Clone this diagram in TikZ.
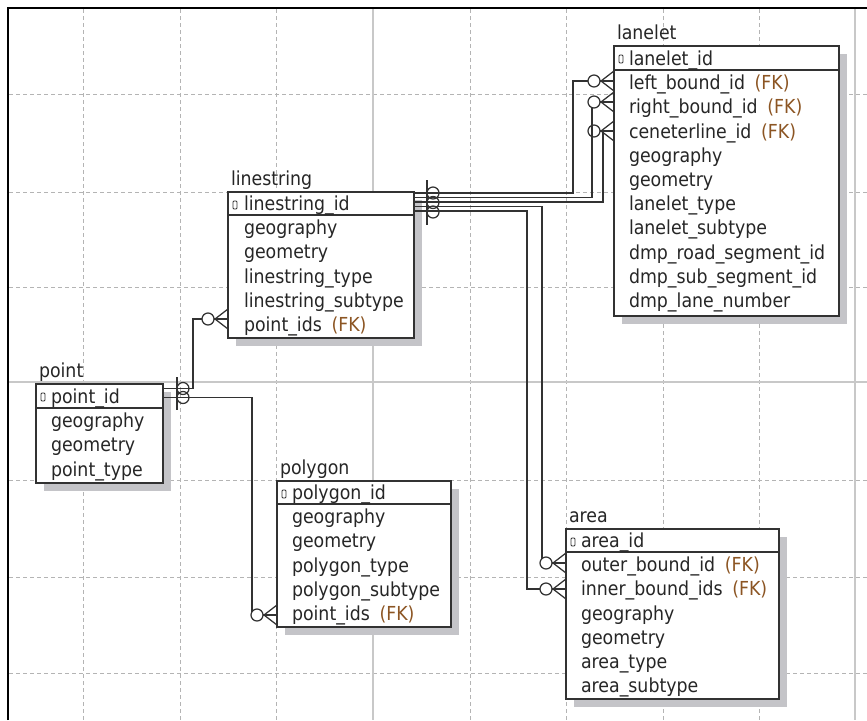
\documentclass[tikz,border=0pt]{standalone}
\usepackage{fontspec}
\setmainfont{DejaVu Sans}[FakeStretch=0.9]
\definecolor{gridc}{RGB}{180,180,180}
\definecolor{pagec}{RGB}{200,200,200}
\definecolor{shadc}{RGB}{196,196,200}
\definecolor{linec}{RGB}{50,50,50}
\definecolor{txtc}{RGB}{38,38,38}
\definecolor{fkc}{RGB}{140,85,35}
\newcommand\erfont{\fontsize{19.3}{22}\selectfont}
\newcommand\fk{\hspace{0.5em}\textcolor{fkc}{(FK)}}
\newcommand\crowfoot[2]{% #1 edge x, #2 y
  \draw[conn] (#1-20,#2) circle[radius=6];
  \draw[conn] (#1-14,#2) -- (#1,#2);
  \draw[conn] (#1,#2-10) -- (#1-13,#2) -- (#1,#2+10);}
\begin{document}
\begin{tikzpicture}[x=1pt,y=-1pt,
  gridd/.style={draw=gridc, line width=0.9pt, dash pattern=on 4pt off 3pt},
  grids/.style={draw=pagec, line width=1.4pt},
  box/.style={draw=linec, line width=1.3pt, fill=white, inner sep=0pt, outer sep=0pt, anchor=north west},
  sepline/.style={draw=linec, line width=1.3pt},
  shad/.style={fill=shadc},
  conn/.style={draw=linec, line width=1.25pt},
  txt/.style={anchor=base west, inner sep=0pt, outer sep=0pt, text=txtc, font=\erfont},
  keyic/.style={draw=linec, line width=0.9pt, rounded corners=1pt}]
\useasboundingbox (0,0) rectangle (867,720);
\fill[white] (0,0) rectangle (867,720);
% grid
\foreach \gx in {83,180,276,470,566,663,759} \draw[gridd] (\gx,9) -- (\gx,720);
\foreach \gy in {94,192,287,480,577,673} \draw[gridd] (9,\gy) -- (867,\gy);
\draw[grids] (373,9) -- (373,720);
\draw[grids] (855,9) -- (855,720);
\draw[grids] (9,382) -- (867,382);
\draw[black, line width=2pt] (8,720) -- (8,8) -- (867,8);
% shadows
\fill[shad] (622,54) rectangle (847,324);
\fill[shad] (236,200) rectangle (422,346);
\fill[shad] (44,392) rectangle (171,491);
\fill[shad] (285,489) rectangle (459,635);
\fill[shad] (574,537) rectangle (787,707);
% connector end points
\coordinate (ls-a) at (414,193);
\coordinate (ls-b) at (414,197.5);
\coordinate (ls-c) at (414,202);
\coordinate (ls-d) at (414,206.5);
\coordinate (ls-e) at (414,211);
\coordinate (ll-a) at (588,81);
\coordinate (ll-b) at (592,107.7);
\coordinate (ll-c) at (603,131);
\coordinate (ar-a) at (542,558.5);
\coordinate (ar-b) at (540,589);
\coordinate (pt-a) at (163,388.5);
\coordinate (pt-b) at (163,397.5);
\coordinate (ls-f) at (202,319);
\coordinate (pg-a) at (252,611.7);
% connectors
\draw[conn] (ls-a) -- ++(159,0) |- (ll-a);
\draw[conn] (ls-b) -| (ll-b);
\draw[conn] (ls-c) -| (ll-c);
\draw[conn] (ls-d) -| (ar-a);
\draw[conn] (ls-e) -- ++(113,0) |- (ar-b);
\draw[conn] (pt-a) -- ++(30,0) |- (ls-f);
\draw[conn] (pt-b) -| (pg-a);
% many ends
\crowfoot{614}{81}
\crowfoot{614}{102}
\crowfoot{614}{131}
\crowfoot{566}{563}
\crowfoot{566}{589}
\crowfoot{228}{319}
\crowfoot{277}{615}
% zero-or-one ends
\draw[conn] (427,180) -- (427,225);
\draw[conn] (433,193) circle[radius=6];
\draw[conn] (433,202.5) circle[radius=6];
\draw[conn] (433,212) circle[radius=6];
\draw[conn] (177,377) -- (177,410);
\draw[conn] (183,388.5) circle[radius=6];
\draw[conn] (183,397.5) circle[radius=6];
% ---------- lanelet
\node[box, minimum width=225pt, minimum height=270pt] (lanelet) at (614,46) {};
\draw[sepline] (614,70) -- (839,70);
\draw[keyic] (619,55) rectangle (623,63);
\node[txt] (lanelet-t) at (617,39) {lanelet};
\node[txt] (lanelet-0) at (629,65) {lanelet\_id};
\node[txt] (lanelet-1) at (629,89.7) {left\_bound\_id\fk};
\node[txt] (lanelet-2) at (629,113.9) {right\_bound\_id\fk};
\node[txt] (lanelet-3) at (629,138.1) {ceneterline\_id\fk};
\node[txt] (lanelet-4) at (629,162.3) {geography};
\node[txt] (lanelet-5) at (629,186.5) {geometry};
\node[txt] (lanelet-6) at (629,210.7) {lanelet\_type};
\node[txt] (lanelet-7) at (629,234.9) {lanelet\_subtype};
\node[txt] (lanelet-8) at (629,259.1) {dmp\_road\_segment\_id};
\node[txt] (lanelet-9) at (629,283.3) {dmp\_sub\_segment\_id};
\node[txt] (lanelet-10) at (629,307.5) {dmp\_lane\_number};
% ---------- linestring
\node[box, minimum width=186pt, minimum height=146pt] (linestring) at (228,192) {};
\draw[sepline] (228,215) -- (414,215);
\draw[keyic] (233,201) rectangle (237,209);
\node[txt] (linestring-t) at (231,185) {linestring};
\node[txt] (linestring-0) at (244,210) {linestring\_id};
\node[txt] (linestring-1) at (244,234.7) {geography};
\node[txt] (linestring-2) at (244,258.9) {geometry};
\node[txt] (linestring-3) at (244,283.1) {linestring\_type};
\node[txt] (linestring-4) at (244,307.3) {linestring\_subtype};
\node[txt] (linestring-5) at (244,331.5) {point\_ids\fk};
% ---------- point
\node[box, minimum width=127pt, minimum height=99pt] (point) at (36,384) {};
\draw[sepline] (36,408) -- (163,408);
\draw[keyic] (41,393) rectangle (45,401);
\node[txt] (point-t) at (39,377) {point};
\node[txt] (point-0) at (51,403) {point\_id};
\node[txt] (point-1) at (51,427.7) {geography};
\node[txt] (point-2) at (51,451.9) {geometry};
\node[txt] (point-3) at (51,476.1) {point\_type};
% ---------- polygon
\node[box, minimum width=174pt, minimum height=146pt] (polygon) at (277,481) {};
\draw[sepline] (277,504) -- (451,504);
\draw[keyic] (282,490) rectangle (286,498);
\node[txt] (polygon-t) at (280,474) {polygon};
\node[txt] (polygon-0) at (292,499) {polygon\_id};
\node[txt] (polygon-1) at (292,523.7) {geography};
\node[txt] (polygon-2) at (292,547.9) {geometry};
\node[txt] (polygon-3) at (292,572.1) {polygon\_type};
\node[txt] (polygon-4) at (292,596.3) {polygon\_subtype};
\node[txt] (polygon-5) at (292,620.5) {point\_ids\fk};
% ---------- area
\node[box, minimum width=213pt, minimum height=170pt] (area) at (566,529) {};
\draw[sepline] (566,552) -- (779,552);
\draw[keyic] (571,538) rectangle (575,546);
\node[txt] (area-t) at (569,522) {area};
\node[txt] (area-0) at (581,547) {area\_id};
\node[txt] (area-1) at (581,571.7) {outer\_bound\_id\fk};
\node[txt] (area-2) at (581,595.9) {inner\_bound\_ids\fk};
\node[txt] (area-3) at (581,620.1) {geography};
\node[txt] (area-4) at (581,644.3) {geometry};
\node[txt] (area-5) at (581,668.5) {area\_type};
\node[txt] (area-6) at (581,692.7) {area\_subtype};
\end{tikzpicture}
\end{document}
